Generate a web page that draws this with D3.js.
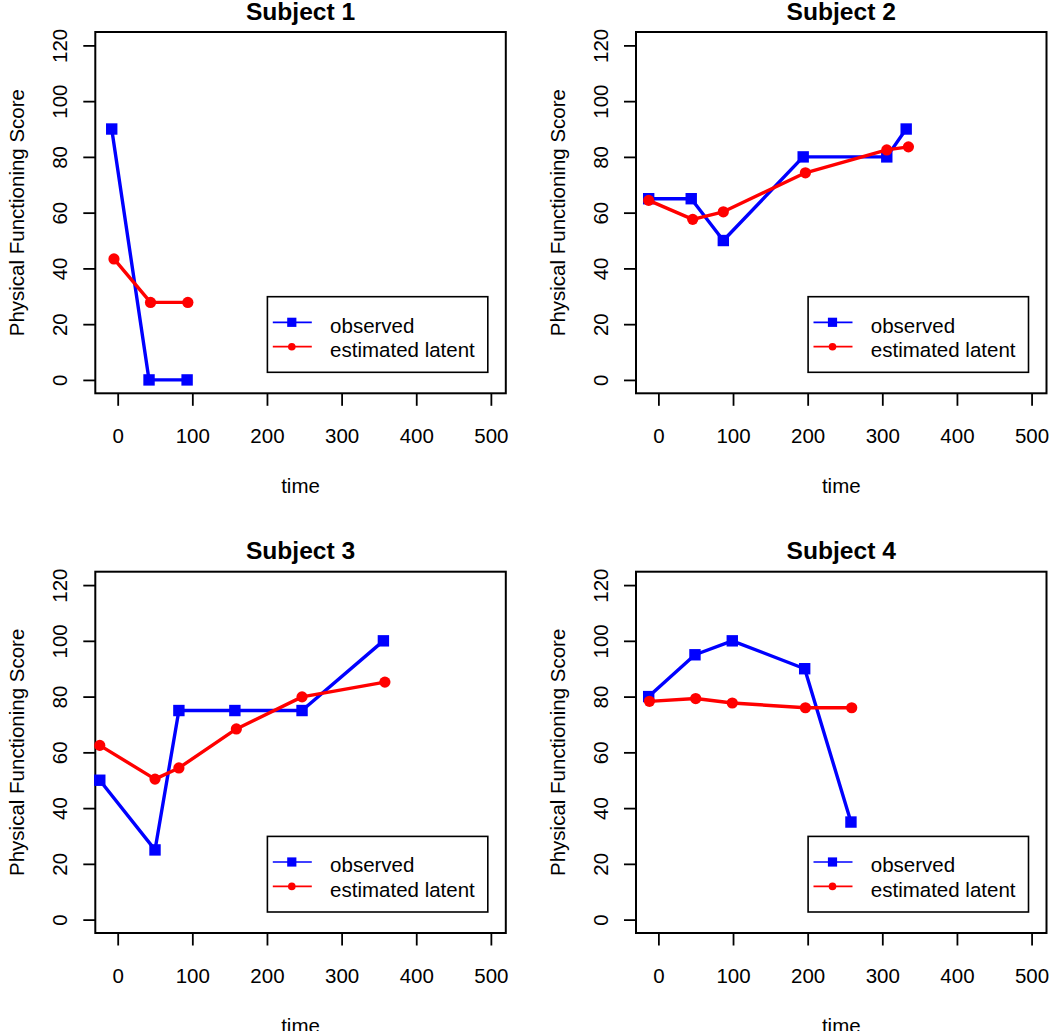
<!DOCTYPE html>
<html>
<head>
<meta charset="utf-8">
<script src="https://cdn.jsdelivr.net/npm/d3@7"></script>
<style>
  html, body { margin: 0; padding: 0; background: #fff; }
  svg { display: block; font-family: "Liberation Sans", Arial, sans-serif; }
</style>
</head>
<body>
<svg id="chart" width="1050" height="1031"></svg>
<script>
const subjectTitles = ["Subject 1", "Subject 2", "Subject 3", "Subject 4"];
const xTicks = [0, 100, 200, 300, 400, 500];
const yTicks = [0, 20, 40, 60, 80, 100, 120];
const observedTimes = [
  [-8, 42, 93],
  [-13, 44, 87, 194, 306, 332],
  [-24, 50, 82, 157, 247, 356],
  [-13, 49, 99, 196, 258]
];
const observedScores = [
  [90, 0, 0],
  [65, 65, 50, 80, 80, 90],
  [50, 25, 75, 75, 75, 100],
  [80, 95, 100, 90, 35]
];
const latentTimes = [
  [-5, 44, 94],
  [-13, 46, 87, 197, 306, 335],
  [-24, 50, 82, 159, 247, 358],
  [-12, 50, 99, 197, 259]
];
const latentScores = [
  [43.4, 27.8, 27.8],
  [64.4, 57.6, 60.3, 74.3, 82.5, 83.6],
  [62.5, 50.4, 54.4, 68.4, 79.9, 85.2],
  [78.3, 79.3, 77.7, 76.0, 76.0]
];
const legendLabels = ["observed", "estimated latent"];
const seriesColors = ["#0000FF", "#FF0000"];
const xLabel = "time";
const yLabel = "Physical Functioning Score";

const svg = d3.select("#chart");
const boxW = 410.5, boxH = 361.3;
const origins = [[95.3, 32], [636, 32], [95.3, 571.7], [636, 571.7]];
const fs = 20.5;

origins.forEach(([ox, oy], i) => {
  const g = svg.append("g").attr("transform", `translate(${ox},${oy})`);
  const x = d3.scaleLinear().domain([-30, 520]).range([0, boxW]);
  const y = d3.scaleLinear().domain([-4.8, 124.8]).range([boxH, 0]);

  // title
  g.append("text").attr("x", boxW / 2).attr("y", -12.5)
    .attr("text-anchor", "middle").attr("font-weight", "bold")
    .attr("font-size", fs * 1.2).text(subjectTitles[i]);

  // x axis
  const xa = g.append("g").attr("transform", `translate(0,${boxH})`)
    .call(d3.axisBottom(x).tickValues(xTicks).tickSize(12.5).tickPadding(0).tickFormat(d3.format("d")));
  xa.select(".domain").remove();
  xa.selectAll(".tick line").attr("stroke", "#000").attr("stroke-width", 1.8);
  xa.selectAll(".tick text").attr("y", 49.7).attr("dy", null)
    .attr("font-size", fs).attr("fill", "#000").attr("font-family", null);

  // y axis
  const ya = g.append("g")
    .call(d3.axisLeft(y).tickValues(yTicks).tickSize(12).tickPadding(0).tickFormat(d3.format("d")));
  ya.select(".domain").remove();
  ya.selectAll(".tick line").attr("stroke", "#000").attr("stroke-width", 1.8);
  ya.selectAll(".tick text")
    .attr("x", null).attr("dy", null).attr("y", null)
    .attr("text-anchor", "middle")
    .attr("transform", "translate(-28,0) rotate(-90)")
    .attr("font-size", fs).attr("fill", "#000").attr("font-family", null);

  // axis titles
  g.append("text").attr("x", boxW / 2).attr("y", boxH + 99.7)
    .attr("text-anchor", "middle").attr("font-size", fs).text(xLabel);
  g.append("text")
    .attr("transform", `translate(-71,${boxH / 2}) rotate(-90)`)
    .attr("text-anchor", "middle").attr("font-size", fs).text(yLabel);

  // box
  g.append("rect").attr("x", 0).attr("y", 0).attr("width", boxW).attr("height", boxH)
    .attr("fill", "none").attr("stroke", "#000").attr("stroke-width", 2);

  const line = d3.line().x(d => x(d[0])).y(d => y(d[1]));
  const obs = observedTimes[i].map((t, k) => [t, observedScores[i][k]]);
  const lat = latentTimes[i].map((t, k) => [t, latentScores[i][k]]);

  g.append("path").datum(obs).attr("d", line).attr("fill", "none")
    .attr("stroke", seriesColors[0]).attr("stroke-width", 3.4).attr("stroke-linejoin", "round");
  g.selectAll(".sq").data(obs).enter().append("rect")
    .attr("x", d => x(d[0]) - 5.7).attr("y", d => y(d[1]) - 5.7)
    .attr("width", 11.4).attr("height", 11.4).attr("fill", seriesColors[0]);

  g.append("path").datum(lat).attr("d", line).attr("fill", "none")
    .attr("stroke", seriesColors[1]).attr("stroke-width", 3.4).attr("stroke-linejoin", "round");
  g.selectAll(".ci").data(lat).enter().append("circle")
    .attr("cx", d => x(d[0])).attr("cy", d => y(d[1])).attr("r", 5.6)
    .attr("fill", seriesColors[1]);

  // legend
  const lw = 220.4, lh = 75.6;
  const lx = boxW - 18 - lw, ly = boxH - 21 - lh;
  const lg = g.append("g").attr("transform", `translate(${lx},${ly})`);
  lg.append("rect").attr("width", lw).attr("height", lh).attr("fill", "#fff")
    .attr("stroke", "#000").attr("stroke-width", 1.6);
  legendLabels.forEach((lab, k) => {
    const ry = k === 0 ? 25.6 : 50;
    lg.append("line").attr("x1", 5.4).attr("x2", 44.4).attr("y1", ry).attr("y2", ry)
      .attr("stroke", seriesColors[k]).attr("stroke-width", 1.7);
    if (k === 0) {
      lg.append("rect").attr("x", 24.4 - 4.6).attr("y", ry - 4.6).attr("width", 9.2).attr("height", 9.2)
        .attr("fill", seriesColors[k]);
    } else {
      lg.append("circle").attr("cx", 24.4).attr("cy", ry).attr("r", 3.8).attr("fill", seriesColors[k]);
    }
    lg.append("text").attr("x", 62.7).attr("y", ry + 10.5).attr("font-size", fs).text(lab);
  });
});
</script>
</body>
</html>
